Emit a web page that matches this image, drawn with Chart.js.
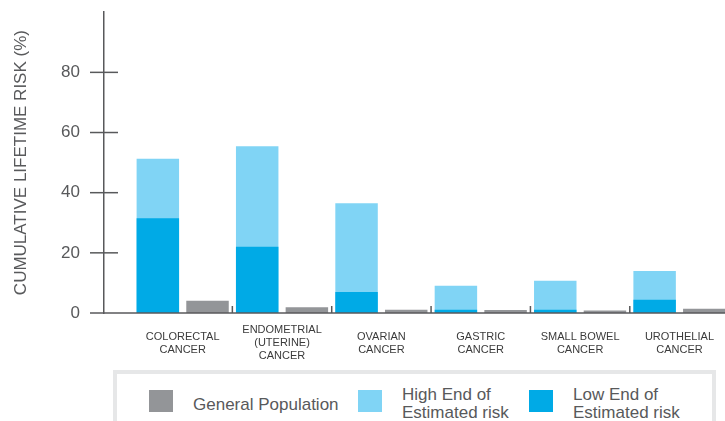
<!DOCTYPE html>
<html>
<head>
<meta charset="utf-8">
<script src="https://cdn.jsdelivr.net/npm/chart.js@4.4.1/dist/chart.umd.min.js"></script>
<style>
  body { margin: 0; background: #fff; }
  #wrap { position: relative; width: 725px; height: 421px; overflow: hidden; font-family: "Liberation Sans", Arial, sans-serif; }
  #chart { position: absolute; left: 0; top: -22px; }
  #legend { position: absolute; left: 113px; top: 370px; width: 595px; height: 70px; border: 4.5px solid #e6e7e8; }
  .sw { position: absolute; top: 15.5px; width: 24px; height: 22px; }
  .lbl { position: absolute; color: #58595b; font-size: 17px; line-height: 18px; }
</style>
</head>
<body>
<div id="wrap">
  <canvas id="chart" width="731" height="385"></canvas>
  <div id="legend"></div>
</div>
<script>
"use strict";
//chart data
let categories = [
  ["COLORECTAL", "CANCER"],
  ["ENDOMETRIAL", "(UTERINE)", "CANCER"],
  ["OVARIAN", "CANCER"],
  ["GASTRIC", "CANCER"],
  ["SMALL BOWEL", "CANCER"],
  ["UROTHELIAL", "CANCER"],
];
let lowEnd = [31.5, 22.0, 7.0, 1.1, 1.1, 4.4];
let highEnd = [51.3, 55.4, 36.5, 9.1, 10.7, 14.0];
let generalPopulation = [4.1, 1.9, 1.1, 1.0, 0.8, 1.4];
let yTicks = [0, 20, 40, 60, 80];

let colors = {
  gen: "#939598",
  high: "#80d4f5",
  low: "#00aae6",
  axis: "#58595b",
};

//tick marks across the y axis, baseline and category separators
let axisMarks = {
  id: "axisMarks",
  afterDatasetsDraw(chart) {
    let ctx = chart.ctx;
    let y = chart.scales.y;
    let x = chart.scales.x;
    let ax = y.right;
    ctx.save();
    ctx.strokeStyle = colors.axis;
    ctx.lineWidth = 1.5;
    for (let i = 1; i < yTicks.length; i++) {
      let py = y.getPixelForValue(yTicks[i]);
      ctx.beginPath();
      ctx.moveTo(ax - 14, py);
      ctx.lineTo(ax + 14, py);
      ctx.stroke();
    }
    let base = y.getPixelForValue(0);
    ctx.beginPath();
    ctx.moveTo(ax - 14, base);
    ctx.lineTo(chart.width, base);
    ctx.stroke();
    for (let i = 0; i < categories.length - 1; i++) {
      let px = (x.getPixelForValue(i) + x.getPixelForValue(i + 1)) / 2;
      ctx.beginPath();
      ctx.moveTo(px, base);
      ctx.lineTo(px, base - 7);
      ctx.stroke();
    }
    ctx.restore();
  },
};

function renderChart() {
  let ctx = document.getElementById("chart").getContext("2d");
  new Chart(ctx, {
    type: "bar",
    data: {
      labels: categories,
      datasets: [
        { label: "Low End of Estimated risk", data: lowEnd, backgroundColor: colors.low, stack: "risk", order: 0 },
        { label: "High End of Estimated risk", data: highEnd, backgroundColor: colors.high, stack: "risk", order: 1 },
        { label: "General Population", data: generalPopulation, backgroundColor: colors.gen, stack: "gen", order: 2 },
      ],
    },
    options: {
      responsive: false,
      animation: false,
      categoryPercentage: 1.0,
      barPercentage: 0.855,
      layout: { padding: { top: 12, right: 0, bottom: 0, left: 0 } },
      plugins: { legend: { display: false }, tooltip: { enabled: false } },
      scales: {
        x: {
          type: "category",
          stacked: true,
          grid: { display: false, drawTicks: false },
          border: { display: false },
          ticks: {
            autoSkip: false,
            maxRotation: 0,
            crossAlign: "center",
            padding: 17,
            color: "#3b3b3b",
            font: { family: "'Liberation Sans', Arial, sans-serif", size: 11, lineHeight: 1.2 },
          },
          afterFit: (s) => { s.height = 50; },
        },
        y: {
          position: "left",
          weight: 1,
          stacked: false,
          min: 0,
          max: 100,
          afterBuildTicks: (s) => { s.ticks = yTicks.map((v) => ({ value: v })); },
          grid: { display: false, drawTicks: false },
          border: { display: true, color: colors.axis, width: 1.5 },
          ticks: {
            padding: 24,
            color: colors.axis,
            font: { family: "'Liberation Sans', Arial, sans-serif", size: 17 },
          },
          title: {
            display: true,
            text: "CUMULATIVE LIFETIME RISK (%)",
            color: colors.axis,
            padding: { top: 11, bottom: 0 },
            font: { family: "'Liberation Sans', Arial, sans-serif", size: 17, lineHeight: 1.2 },
          },
          afterFit: (s) => { s.width = 104; },
        },
        pad: {
          type: "linear",
          position: "left",
          weight: 0,
          display: true,
          grid: { display: false, drawTicks: false },
          border: { display: false },
          ticks: { display: false },
          afterFit: (s) => { s.width = 29; },
        },
      },
    },
    plugins: [axisMarks],
  });
}

//html legend in a grey frame
function renderLegend() {
  let legend = document.getElementById("legend");
  let items = [
    { color: colors.gen, text: "General Population", sw: 32, tx: 76, top: 22 },
    { color: colors.high, text: "High End of<br>Estimated risk", sw: 241, tx: 285, top: 12 },
    { color: colors.low, text: "Low End of<br>Estimated risk", sw: 412, tx: 456, top: 12 },
  ];
  for (let i = 0; i < items.length; i++) {
    let it = items[i];
    let sw = document.createElement("div");
    sw.className = "sw";
    sw.style.left = it.sw + "px";
    sw.style.background = it.color;
    legend.appendChild(sw);
    let lbl = document.createElement("div");
    lbl.className = "lbl";
    lbl.style.left = it.tx + "px";
    lbl.style.top = it.top + "px";
    lbl.innerHTML = it.text;
    legend.appendChild(lbl);
  }
}

renderChart();
renderLegend();
</script>
</body>
</html>
